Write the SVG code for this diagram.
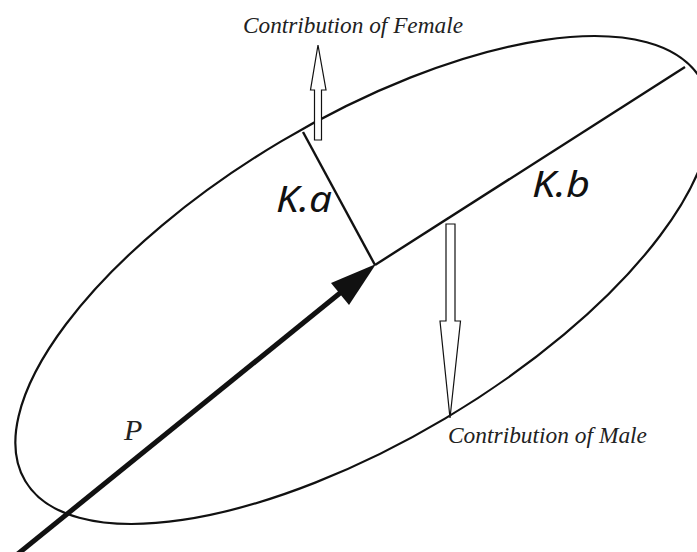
<svg xmlns="http://www.w3.org/2000/svg" width="697" height="552" viewBox="0 0 697 552">
<defs>
<style>
.ell{fill:none;stroke:#111;stroke-width:2.2}
.ax{fill:none;stroke:#111;stroke-width:2.4}
.hollow{fill:#fff;stroke:#111;stroke-width:1.2;stroke-linejoin:miter}
.lbl{font-family:"Liberation Serif","Times New Roman",serif;font-style:italic;fill:#222}
.k{font-family:"Noto Sans","Open Sans","Liberation Sans",sans-serif;font-style:italic;fill:#111}
</style>
</defs>
<rect width="697" height="552" fill="#fff"/>
<g id="ellipse">
<ellipse class="ell" cx="363" cy="280" rx="393" ry="161" transform="rotate(-30.75 363 280)"/>
</g>
<g id="connectors">
<line id="kb-line" class="ax" x1="375" y1="265" x2="685" y2="67"/>
<line id="ka-line" class="ax" x1="375" y1="265" x2="303" y2="132"/>
<line id="p-line" stroke="#111" stroke-width="5" x1="14" y1="557" x2="345" y2="289"/>
<polygon id="p-head" fill="#111" points="376,264 331,283 349,305"/>
</g>
<g id="female-arrow">
<polygon class="hollow" points="318,45 326,90 321.5,90 321.5,140 314.5,140 314.5,90 310.5,90"/>
</g>
<g id="male-arrow">
<polygon class="hollow" points="446,224 455,224 455,321 460.5,321 450,418 440,321 446,321"/>
</g>
<g id="labels">
<text class="lbl" x="243" y="33" font-size="23" textLength="220" lengthAdjust="spacingAndGlyphs">Contribution of Female</text>
<text class="lbl" x="448" y="443" font-size="23" textLength="199" lengthAdjust="spacingAndGlyphs">Contribution of Male</text>
<text class="lbl" x="124" y="440" font-size="30">P</text>
<text class="k" x="276" y="212" font-size="36" textLength="56" lengthAdjust="spacingAndGlyphs">K.a</text>
<text class="k" x="532" y="197" font-size="36" textLength="58" lengthAdjust="spacingAndGlyphs">K.b</text>
</g>
</svg>
